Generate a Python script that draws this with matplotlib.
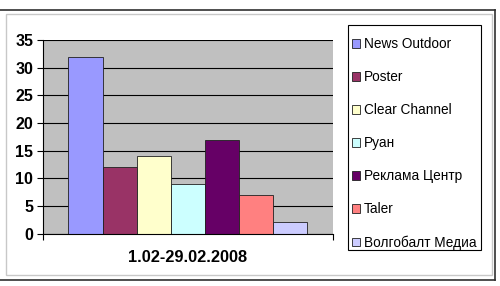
import numpy as np
import matplotlib.pyplot as plt
from matplotlib.lines import Line2D
from matplotlib.patches import Rectangle

plt.rcParams['font.family'] = ['Liberation Sans', 'DejaVu Sans']

# data
companies = ["News Outdoor", "Poster", "Clear Channel", "Руан",
             "Реклама Центр", "Taler", "Волгобалт Медиа"]
counts = [32, 12, 14, 9, 17, 7, 2]
colors = ["#9999FF", "#993366", "#FFFFCC", "#CCFFFF",
          "#660066", "#FF8080", "#CCCCFF"]
period = "1.02-29.02.2008"
yticks = [0, 5, 10, 15, 20, 25, 30, 35]

W, H = 500, 286
fig = plt.figure(figsize=(W / 100, H / 100), dpi=100)
fig.patch.set_facecolor("white")

# pixel -> figure fraction helper
px = lambda x0, y0, x1, y1: [x0 / W, 1 - y1 / H, (x1 - x0) / W, (y1 - y0) / H]
ax = fig.add_axes(px(43, 40, 333, 233.5))
ax.set_facecolor("#C0C0C0")

n = len(counts)
w = (239 / 7) / 290
xs = (np.arange(n) - (n - 1) / 2) * w
bars = ax.bar(xs, counts, w, color=colors, edgecolor="#202020", lw=0.6, zorder=3)

ax.set_xlim(-0.5, 0.5)
ax.set_ylim(0, 35)
ax.set_yticks(yticks)
ax.set_yticklabels([str(t) for t in yticks], fontsize=11.5, fontweight="bold")
ax.set_xticks([-0.5, 0.5])
ax.set_xticklabels(["", ""])
ax.tick_params(axis="y", length=4, width=0.8, pad=3, color="black")
ax.tick_params(axis="x", length=4, width=0.8, color="black")
ax.yaxis.grid(True, color="black", lw=0.8, zorder=1)
ax.set_axisbelow(True)
for s in ("top", "right"):
    ax.spines[s].set_visible(False)
for s in ("left", "bottom"):
    ax.spines[s].set_color("black")
    ax.spines[s].set_linewidth(0.8)
    ax.spines[s].set_zorder(4)

fig.text(188 / W, 1 - 258 / H, period, ha="center", va="center",
         fontsize=11.8, fontweight="bold")

# legend: frame drawn separately (Excel pads top more than bottom)
fig.add_artist(Rectangle((348 / W, 1 - 250 / H), 133 / W, 225 / H, transform=fig.transFigure,
                         fill=False, ec="black", lw=0.8))
leg = fig.legend(handles=list(bars), labels=companies, loc="upper left",
                 bbox_to_anchor=(352 / W, 1 - 37 / H), frameon=False,
                 fontsize=9.8, handlelength=0.6, handleheight=0.6, handletextpad=0.3,
                 labelspacing=1.40, borderpad=0, borderaxespad=0)

# chart area frames
fig.add_artist(Rectangle((6 / W, 1 - 275 / H), 486 / W, 261 / H, transform=fig.transFigure,
                         fill=False, ec="#C8C8C8", lw=1))
fig.add_artist(Line2D([0, 495 / W], [1 - 10 / H] * 2, transform=fig.transFigure, color="#303030", lw=1.2))
fig.add_artist(Line2D([495 / W] * 2, [1 - 10 / H, 1 - 280 / H], transform=fig.transFigure, color="#303030", lw=1.2))
fig.add_artist(Line2D([0, 495 / W], [1 - 280 / H] * 2, transform=fig.transFigure, color="#303030", lw=1.2))

fig.savefig("out.png", dpi=100)
